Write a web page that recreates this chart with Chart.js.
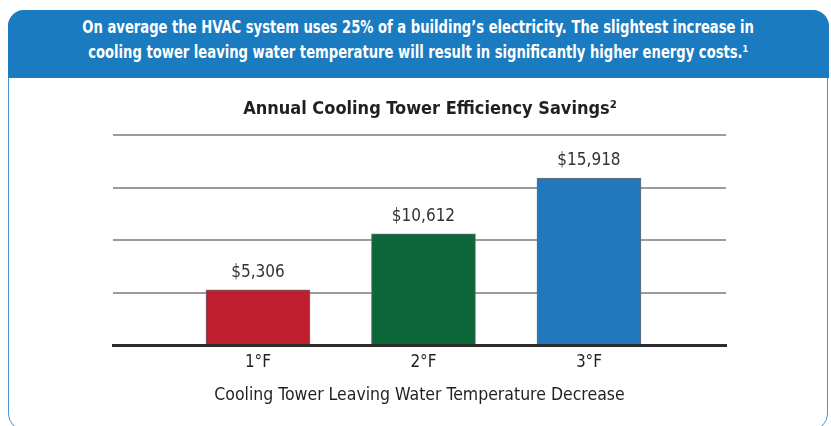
<!DOCTYPE html>
<html>
<head>
<meta charset="utf-8">
<script src="https://cdn.jsdelivr.net/npm/chart.js@4.4.1/dist/chart.umd.min.js"></script>
<style>
  html, body { margin: 0; padding: 0; background: #ffffff; }
  #wrap { position: relative; width: 831px; height: 426px; overflow: hidden; }
  #frame { position: absolute; left: 8px; top: 10px; width: 820px; height: 420px;
           border: 1.5px solid #4f93cf; border-radius: 16px; box-sizing: border-box; }
  #header { position: absolute; left: 8px; top: 10px; width: 821px; height: 68px;
            background: #1b7bc0; border-radius: 16px 16px 0 0; color: #fff;
            font-family: "DejaVu Sans Condensed", "Roboto", sans-serif;
            font-weight: bold; font-size: 17.5px; line-height: 25px; text-align: center;
            padding-top: 5px; box-sizing: border-box; }
  #header span { display: inline-block; transform: scaleX(0.835); transform-origin: 50% 50%; white-space: nowrap; }
  #title { position: absolute; left: 230px; width: 400px; top: 96px; text-align: center;
           font-family: "DejaVu Sans Condensed", "Roboto", sans-serif; font-weight: bold;
           font-size: 18px; line-height: 24px; color: #231f20; }
  #c { position: absolute; left: 0; top: 0; }
</style>
</head>
<body>
<div id="wrap">
  <div id="frame"></div>
  <div id="header"><span>On average the HVAC system uses 25% of a building’s electricity. The slightest increase in</span><br><span>cooling tower leaving water temperature will result in significantly higher energy costs.¹</span></div>
  <canvas id="c" width="831" height="426"></canvas>
  <div id="title"></div>
</div>
<script>
const categories = ["1°F", "2°F", "3°F"];
const savings = [5306, 10612, 15918];
const barColors = ["#be1e2d", "#0b6638", "#2277bd"];
const yTicks = [0, 5000, 10000, 15000, 20000];
const chartTitle = "Annual Cooling Tower Efficiency Savings²";
const xAxisTitle = "Cooling Tower Leaving Water Temperature Decrease";

const FONT = '"DejaVu Sans Condensed", "Roboto", sans-serif';
document.getElementById('title').textContent = chartTitle;

const valueLabels = {
  id: 'valueLabels',
  afterDatasetsDraw(chart) {
    const ctx = chart.ctx;
    const meta = chart.getDatasetMeta(0);
    ctx.save();
    ctx.font = '17px ' + FONT;
    ctx.fillStyle = '#333333';
    ctx.textAlign = 'center';
    ctx.textBaseline = 'middle';
    meta.data.forEach((bar, i) => {
      ctx.fillText('$' + savings[i].toLocaleString('en-US'), bar.x, bar.y - 17);
    });
    ctx.restore();
  }
};

new Chart(document.getElementById('c'), {
  type: 'bar',
  data: {
    datasets: [{
      data: savings.map((v, i) => ({ x: i + 1, y: v })),
      backgroundColor: barColors,
      borderColor: '#6b6b6b',
      borderWidth: 1,
      borderSkipped: 'bottom',
      barThickness: 104
    }]
  },
  options: {
    responsive: false,
    animation: false,
    events: [],
    layout: { padding: { left: 113, right: 105, top: 135, bottom: 20 } },
    plugins: {
      legend: { display: false },
      tooltip: { enabled: false },
      title: { display: false }
    },
    scales: {
      x: {
        type: 'linear',
        offset: false,
        min: 0.124,
        max: 3.828,
        afterBuildTicks: (scale) => { scale.ticks = categories.map((c, i) => ({ value: i + 1 })); },
        ticks: {
          callback: (v) => categories[v - 1],
          color: '#231f20',
          font: { family: FONT, size: 17 },
          padding: 7,
          autoSkip: false,
          maxRotation: 0
        },
        grid: { display: false, drawTicks: false, offset: false },
        border: { display: true, color: '#2b2b2b', width: 3, z: 1 },
        title: {
          display: true,
          text: xAxisTitle,
          color: '#231f20',
          font: { family: FONT, size: 17.5 },
          padding: { top: 5, bottom: 0 }
        }
      },
      y: {
        min: 0,
        max: 20000,
        afterBuildTicks: (scale) => { scale.ticks = yTicks.map(v => ({ value: v })); },
        ticks: { display: false },
        grid: {
          drawTicks: false,
          lineWidth: 2,
          color: (ctx) => ctx.tick && ctx.tick.value === 0 ? 'rgba(0,0,0,0)' : '#9b9b9b'
        },
        border: { display: false }
      }
    }
  },
  plugins: [valueLabels]
});
</script>
</body>
</html>
